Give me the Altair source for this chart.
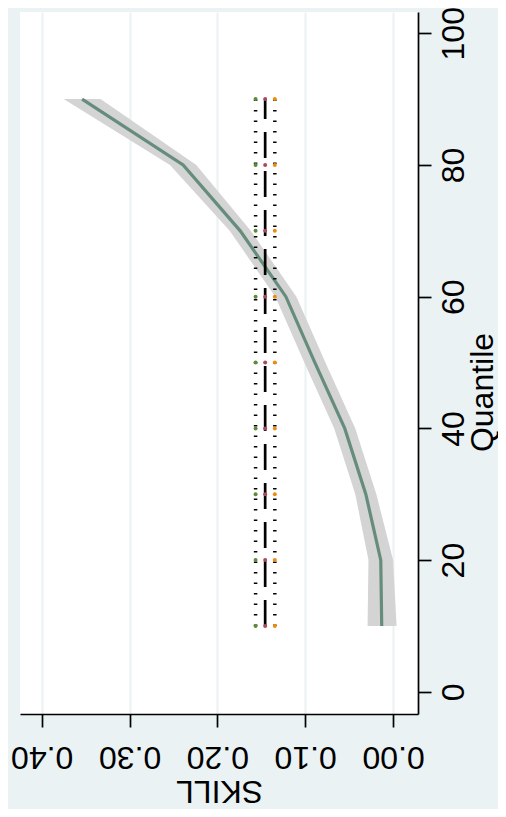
import altair as alt
import pandas as pd

# Main series: skill by quantile with confidence band
quantiles = [10, 20, 30, 40, 50, 60, 70, 80, 90]
skill = [0.0129, 0.0140, 0.031, 0.055, 0.089, 0.122, 0.174, 0.239, 0.354]
skill_lo = [-0.004, 0.000, 0.019, 0.043, 0.077, 0.110, 0.162, 0.224, 0.333]
skill_hi = [0.029, 0.028, 0.043, 0.067, 0.101, 0.134, 0.186, 0.254, 0.375]

# Benchmark series (constant across quantiles)
bench_mean = [0.1456] * 9
bench_upper = [0.1565] * 9
bench_lower = [0.1346] * 9

x_ticks = [0.0, 0.1, 0.2, 0.3, 0.4]
y_ticks = [0, 20, 40, 60, 80, 100]

FONT = "Liberation Sans"

main = pd.DataFrame({"q": quantiles, "skill": skill, "lo": skill_lo, "hi": skill_hi})
bench = pd.DataFrame({"q": quantiles, "mean": bench_mean, "upper": bench_upper, "lower": bench_lower})

xscale = alt.Scale(domain=[-0.0284, 0.4247], reverse=True, nice=False, zero=False)
yscale = alt.Scale(domain=[-3.37, 103.23], nice=False, zero=False)

xaxis = alt.Axis(
    values=x_ticks, format=".2f", orient="bottom", grid=True,
    gridColor="#eaf2f3", gridWidth=2,
    labelAngle=180, labelAlign="center", labelBaseline="alphabetic",
    labelPadding=19, labelFlush=False, labelOverlap=False,
    title="SKILL", titleAngle=180, titleBaseline="alphabetic", titleAlign="center",
    titleY=66, titleFontSize=32, titleFontWeight="normal", titleFont=FONT,
)
yaxis = alt.Axis(
    values=y_ticks, orient="right", grid=False,
    labelAngle=-90, labelAlign="center", labelBaseline="alphabetic",
    labelPadding=32, labelFlush=False, labelOverlap=False,
    title="Quantile", titleAngle=-90, titleBaseline="alphabetic", titleAlign="center",
    titleX=74, titleY=380, titleFontSize=32, titleFontWeight="normal", titleFont=FONT,
)

band = alt.Chart(main).mark_area(color="#d4d4d4", opacity=1).encode(
    y=alt.Y("q:Q", scale=yscale, axis=yaxis),
    x=alt.X("lo:Q", scale=xscale, axis=xaxis),
    x2="hi:Q",
)

line = alt.Chart(main).mark_line(color="#668d7c", strokeWidth=3.2).encode(
    x=alt.X("skill:Q", scale=xscale),
    y=alt.Y("q:Q", scale=yscale),
    order="q:Q",
)

mean_line = alt.Chart(bench).mark_line(color="black", strokeWidth=2.7, strokeDash=[26, 13]).encode(
    x=alt.X("mean:Q", scale=xscale), y=alt.Y("q:Q", scale=yscale), order="q:Q",
)
upper_line = alt.Chart(bench).mark_line(color="black", strokeWidth=3.5, strokeDash=[1.5, 9]).encode(
    x=alt.X("upper:Q", scale=xscale), y=alt.Y("q:Q", scale=yscale), order="q:Q",
)
lower_line = alt.Chart(bench).mark_line(color="black", strokeWidth=3.5, strokeDash=[1.5, 9]).encode(
    x=alt.X("lower:Q", scale=xscale), y=alt.Y("q:Q", scale=yscale), order="q:Q",
)

def dots(field, color):
    return alt.Chart(bench).mark_point(filled=True, color=color, size=16, opacity=1, shape="circle").encode(
        x=alt.X(f"{field}:Q", scale=xscale), y=alt.Y("q:Q", scale=yscale),
    )

chart = alt.layer(
    band, line, upper_line, lower_line, mean_line,
    dots("upper", "#5e8a3c"), dots("mean", "#a84a5e"), dots("lower", "#ee8c12"),
).properties(
    width=398, height=702,
    autosize=alt.AutoSizeParams(type="none"),
    padding={"left": 12, "top": 4, "right": 80, "bottom": 95},
    background="#eaf2f3",
).configure_view(
    fill="white", stroke=None,
).configure_axis(
    domainColor="black", domainWidth=1.7, tickColor="black", tickWidth=1.7, tickSize=13,
    labelFont=FONT, labelFontSize=32, labelColor="black", titleColor="black",
)

chart.save("out.html", embed_options={"renderer": "svg", "actions": False})
